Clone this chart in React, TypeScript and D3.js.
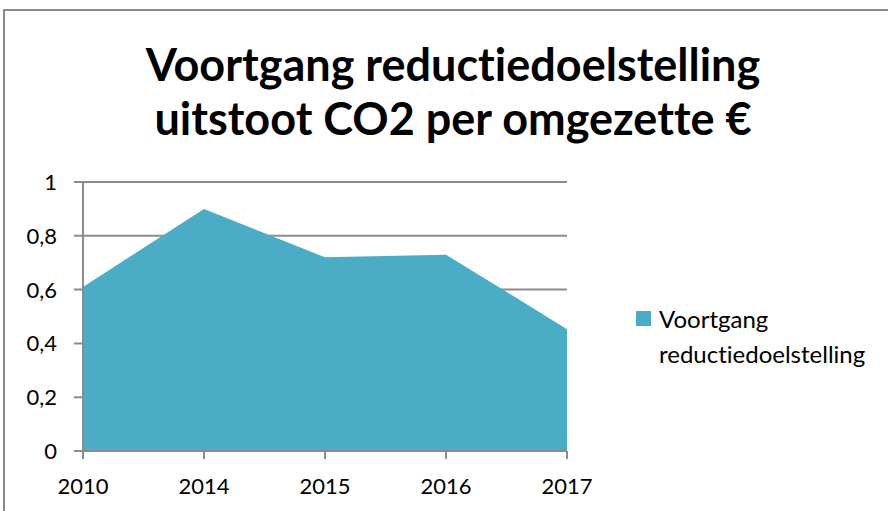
import * as React from "react"
import * as d3 from "d3"

const years = ["2010", "2014", "2015", "2016", "2017"]
const progress = [0.61, 0.9, 0.72, 0.73, 0.453]
const yTicks = [0, 0.2, 0.4, 0.6, 0.8, 1]
const titleLines = ["Voortgang reductiedoelstelling", "uitstoot CO2 per omgezette €"]
const legendLines = ["Voortgang", "reductiedoelstelling"]

const W = 888
const H = 511
const fill = "#4BACC6"
const grid = "#8c8c8c"
const font = "Lato, 'Open Sans', sans-serif"
const noLig = { fontVariantLigatures: "none" as const }

export default function App() {
  const x = d3.scalePoint<string>().domain(years).range([83, 567])
  const y = d3.scaleLinear().domain([0, 1]).range([451, 182])

  const area = d3
    .area<number>()
    .x((_d, i) => x(years[i]) as number)
    .y0(y(0))
    .y1((d) => y(d))

  const fmt = (v: number) => (v === 0 || v === 1 ? String(v) : v.toFixed(1).replace(".", ","))

  return (
    <svg
      width={W}
      height={H}
      style={{ position: "absolute", left: 0, top: 0, background: "#fff" }}
    >
      <rect x={4} y={10} width={W + 10} height={H + 10} fill="#fff" stroke="#8a8a8a" strokeWidth={2} />

      <g fontFamily={font} fontWeight="bold" fontSize={45} textAnchor="middle" fill="#000" style={noLig}>
        {titleLines.map((t, i) => (
          <text key={t} x={453} y={81 + i * 54}>
            {t}
          </text>
        ))}
      </g>

      {/* gridlines */}
      <g stroke={grid} strokeWidth={2}>
        {yTicks.slice(1).map((t) => (
          <line key={t} x1={74} x2={567} y1={y(t)} y2={y(t)} />
        ))}
        <line x1={74} x2={83} y1={y(0)} y2={y(0)} />
      </g>

      <path d={area(progress) || ""} fill={fill} />

      {/* axes */}
      <g stroke={grid} strokeWidth={2}>
        <line x1={83} x2={83} y1={y(1)} y2={y(0)} />
        <line x1={83} x2={567} y1={y(0)} y2={y(0)} />
        {years.map((yr) => (
          <line key={yr} x1={x(yr)} x2={x(yr)} y1={y(0)} y2={y(0) + 8} />
        ))}
      </g>

      <g fontFamily={font} fontSize={22} fill="#000" style={noLig}>
        {yTicks.map((t) => (
          <text key={t} x={57} y={y(t) + 8} textAnchor="end">
            {fmt(t)}
          </text>
        ))}
        {years.map((yr) => (
          <text key={yr} x={x(yr)} y={494} textAnchor="middle">
            {yr}
          </text>
        ))}
      </g>

      <rect x={636} y={311} width={15} height={15} fill={fill} />
      <g fontFamily={font} fontSize={24} fill="#000" style={noLig}>
        {legendLines.map((t, i) => (
          <text key={t} x={659} y={328 + i * 35}>
            {t}
          </text>
        ))}
      </g>
    </svg>
  )
}
